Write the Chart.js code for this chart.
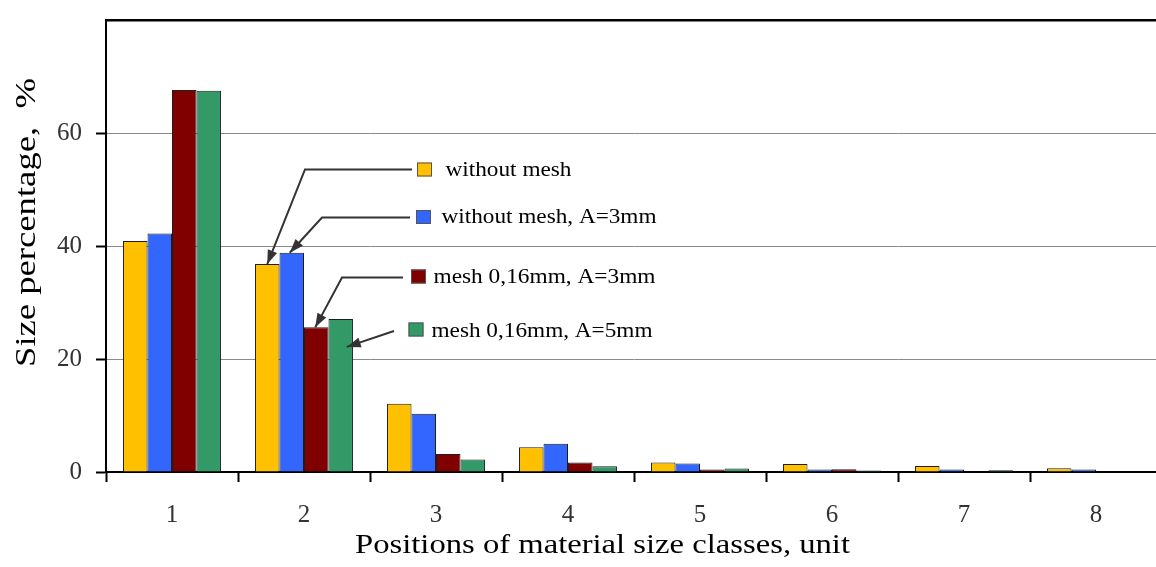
<!DOCTYPE html>
<html>
<head>
<meta charset="utf-8">
<script src="https://cdn.jsdelivr.net/npm/chart.js@4/dist/chart.umd.min.js"></script>
<style>
  html, body { margin: 0; padding: 0; background: #fff; overflow: hidden; }
  #wrap { width: 1170px; height: 567px; position: relative; }
</style>
</head>
<body>
<div id="wrap"><canvas id="c"></canvas></div>
<script>
// Size-class shares (%) for each treatment
const categories = ['1', '2', '3', '4', '5', '6', '7', '8'];
const withoutMesh   = [40.9, 36.8, 12.1, 4.4, 1.7, 1.4, 1.05, 0.65];
const withoutMeshA3 = [42.2, 38.8, 10.3, 5.0, 1.5, 0.45, 0.45, 0.45];
const mesh016A3     = [67.6, 25.6, 3.2, 1.7, 0.45, 0.5, 0, 0];
const mesh016A5     = [67.5, 27.1, 2.2, 1.0, 0.6, 0.25, 0.3, 0];
const seriesNames = ['without mesh', 'without mesh, A=3mm', 'mesh 0,16mm, A=3mm', 'mesh 0,16mm, A=5mm'];
const yTickValues = [0, 20, 40, 60, 80];
const xTitle = 'Positions of material size classes, unit';
const yTitle = 'Size percentage,  %';

const colors = ['#FFC000', '#3366FF', '#800000', '#339966'];
const SERIF = "'Liberation Serif', 'Times New Roman', Times, serif";

// Callout legend: box, label and leader line that ends on a bar of class 2
const callouts = [
  { box: [417, 162.5], text: [445.5, 175.5, 126], path: [[412, 169.5], [305, 169.5]], tip: [0, 0] },
  { box: [416, 210],   text: [441.5, 222.5, 215], path: [[410, 217.5], [322, 217.5]], tip: [-2, 0] },
  { box: [411, 269.5], text: [433.5, 283, 222],   path: [[403, 277.5], [342, 277.5]], tip: [-1, 0] },
  { box: [408.5, 322.5], text: [431.5, 336.5, 221], path: [[394, 331]],              tip: [6, 28] }
];

function stretchedText(ctx, text, x, y, font, width) {
  ctx.save();
  ctx.font = font;
  const w = ctx.measureText(text).width;
  ctx.translate(x, y);
  ctx.scale(width / w, 1);
  ctx.textAlign = 'left';
  ctx.textBaseline = 'alphabetic';
  ctx.fillText(text, 0, 0);
  ctx.restore();
}

const decorations = {
  id: 'decorations',
  afterDatasetsDraw(chart) {
    const ctx = chart.ctx;
    ctx.save();
    ctx.fillStyle = '#000';
    // x axis title
    stretchedText(ctx, xTitle, 355, 553, '28px ' + SERIF, 495);
    // y axis title (rotated)
    ctx.save();
    ctx.translate(35, 367);
    ctx.rotate(-Math.PI / 2);
    stretchedText(ctx, yTitle, 0, 0, '30px ' + SERIF, 289);
    ctx.restore();

    // callouts
    callouts.forEach((c, i) => {
      const bar = chart.getDatasetMeta(i).data[1];
      const tip = [bar.x + c.tip[0], bar.y + c.tip[1]];
      const pts = c.path.concat([tip]);
      ctx.strokeStyle = '#333';
      ctx.lineWidth = 2;
      ctx.beginPath();
      ctx.moveTo(pts[0][0], pts[0][1]);
      for (let k = 1; k < pts.length; k++) ctx.lineTo(pts[k][0], pts[k][1]);
      ctx.stroke();
      // arrow head
      const prev = pts[pts.length - 2];
      const ang = Math.atan2(tip[1] - prev[1], tip[0] - prev[0]);
      const L = 14, H = 5;
      ctx.fillStyle = '#333';
      ctx.beginPath();
      ctx.moveTo(tip[0], tip[1]);
      ctx.lineTo(tip[0] - L * Math.cos(ang) + H * Math.sin(ang), tip[1] - L * Math.sin(ang) - H * Math.cos(ang));
      ctx.lineTo(tip[0] - L * Math.cos(ang) - H * Math.sin(ang), tip[1] - L * Math.sin(ang) + H * Math.cos(ang));
      ctx.closePath();
      ctx.fill();
      // legend box
      ctx.fillStyle = colors[i];
      ctx.fillRect(c.box[0], c.box[1], 15, 14);
      ctx.strokeStyle = '#555';
      ctx.lineWidth = 1;
      ctx.strokeRect(c.box[0] + 0.5, c.box[1] + 0.5, 14, 13);
      // label
      ctx.fillStyle = '#000';
      stretchedText(ctx, seriesNames[i], c.text[0], c.text[1], '20px ' + SERIF, c.text[2]);
    });
    ctx.restore();
  }
};

const seriesValues = [withoutMesh, withoutMeshA3, mesh016A3, mesh016A5];

function build() {
  new Chart(document.getElementById('c'), {
    type: 'bar',
    data: {
      labels: categories,
      datasets: seriesValues.map((vals, i) => ({
        label: seriesNames[i],
        data: vals,
        backgroundColor: colors[i],
        borderColor: '#1e1e1e',
        borderWidth: 1,
        barPercentage: 1.0,
        categoryPercentage: 0.742
      }))
    },
    options: {
      responsive: true,
      maintainAspectRatio: false,
      animation: false,
      layout: { padding: { left: 0, top: 20, right: 8, bottom: 0 } },
      plugins: { legend: { display: false }, tooltip: { enabled: false } },
      scales: {
        x: {
          offset: true,
          grid: {
            offset: true,
            drawOnChartArea: false,
            drawTicks: true,
            tickLength: 10,
            tickColor: '#000',
            tickWidth: 2
          },
          border: { color: '#000', width: 2 },
          ticks: {
            color: '#333',
            padding: 18,
            font: { family: SERIF, size: 25 }
          },
          afterFit(scale) {
            scale.height = 95;
            scale.paddingLeft = 0;
            scale.paddingRight = 0;
          }
        },
        y: {
          min: 0,
          max: 80,
          afterBuildTicks(scale) { scale.ticks = yTickValues.map(v => ({ value: v })); },
          grid: {
            color: ctx => (ctx.tick && ctx.tick.value === 80) ? '#000' : '#8a8a8a',
            lineWidth: ctx => (ctx.tick && ctx.tick.value === 80) ? 2.5 : 1,
            drawTicks: true,
            tickLength: 10,
            tickColor: ctx => (ctx.tick && ctx.tick.value === 80) ? 'rgba(0,0,0,0)' : '#000',
            tickWidth: 2
          },
          border: { color: '#000', width: 2 },
          ticks: {
            color: '#333',
            padding: 14,
            font: { family: SERIF, size: 25 },
            callback: v => (v === 80 ? '' : String(v))
          },
          afterFit(scale) {
            scale.width = 106;
            scale.paddingTop = 0;
            scale.paddingBottom = 0;
          }
        }
      }
    },
    plugins: [decorations]
  });
}

Promise.all([
  document.fonts.load("20px 'Liberation Serif'"),
  document.fonts.load("25px 'Liberation Serif'")
]).then(build, build);
</script>
</body>
</html>
